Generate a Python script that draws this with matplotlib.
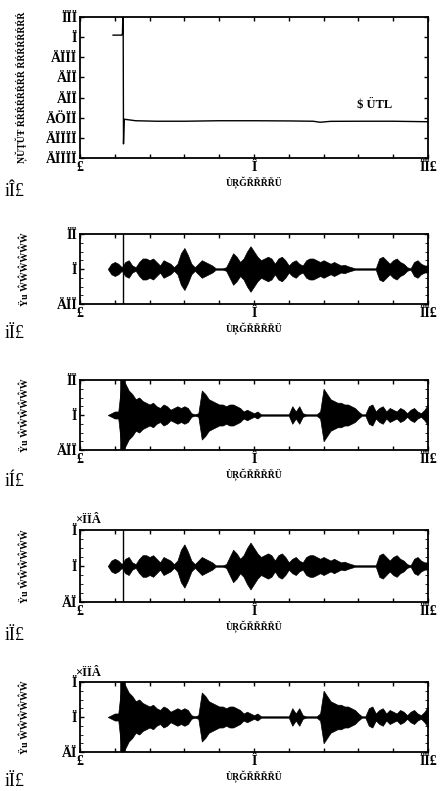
import matplotlib
matplotlib.use('Agg')
import matplotlib.pyplot as plt
import numpy as np

# ---------------- data ----------------
time_ticks = list(range(0, 11))
time_tick_labels = ['£', '', '', '', '', 'Î', '', '', '', '', 'ÏÏ£']
x_label = 'ÙŖĞŘŘŘŘÜ'
panel_labels = ['iÎ£', 'iÏ£', 'iÍ£', 'iÏ£', 'iÏ£']

# (a) time delay estimate
delay_t = [0.95, 1.20, 1.22, 1.23, 1.24, 1.25, 1.27, 1.6, 2.2, 3.0, 4.0, 5.0, 6.0, 6.7, 6.9, 7.2, 8.0, 9.0, 10.0]
delay_v = [20, 20, 35, 200, 200, -1060, -815, -830, -835, -835, -830, -830, -832, -835, -845, -836, -835, -835, -840]
delay_yticks = [200, 0, -200, -400, -600, -800, -1000, -1200]
delay_ytick_labels = ['ÏÏÏ', 'Ï', 'ÄÏÏÏ', 'ÄÏÏ', 'ÄÏÏ', 'ÄÖÏÏ', 'ÄÏÏÏÏ', 'ÄÏÏÏÏ']
delay_ylabel = 'ŅŬŢŬŦ ŔŔŔŔŔŔŔŔ ŔŔŔŔŔŔŔŔ'
annotation = '$ ÜTL'

# envelopes sampled every 0.1 s from 0 to 10 s (fraction of axis half-range)
env_t = [round(0.1 * i, 1) for i in range(101)]
env_b = [0, 0, 0, 0, 0, 0, 0, 0, 0, 0.15,
         0.2, 0.15, 0.05, 0.2, 0.25, 0.1, 0.05, 0.2, 0.3, 0.3,
         0.25, 0.3, 0.2, 0.1, 0.25, 0.2, 0.15, 0.05, 0.15, 0.45,
         0.6, 0.4, 0.15, 0.05, 0.15, 0.25, 0.2, 0.15, 0.1, 0.02,
         0.02, 0.02, 0.05, 0.25, 0.45, 0.35, 0.2, 0.3, 0.5, 0.65,
         0.5, 0.35, 0.25, 0.3, 0.35, 0.3, 0.15, 0.3, 0.35, 0.25,
         0.1, 0.2, 0.25, 0.15, 0.1, 0.25, 0.3, 0.3, 0.25, 0.2,
         0.25, 0.2, 0.15, 0.2, 0.15, 0.1, 0.12, 0.08, 0.05, 0.02,
         0.02, 0.02, 0.02, 0.02, 0.02, 0.02, 0.3, 0.35, 0.25, 0.15,
         0.25, 0.3, 0.2, 0.15, 0.05, 0.02, 0.2, 0.25, 0.15, 0.1, 0.1]
env_c = [0, 0, 0, 0, 0, 0, 0, 0, 0, 0.05,
         0.1, 0.1, 1.0, 0.9, 0.7, 0.6, 0.45, 0.5, 0.4, 0.35,
         0.3, 0.35, 0.25, 0.2, 0.3, 0.25, 0.15, 0.2, 0.25, 0.2,
         0.25, 0.2, 0.05, 0.02, 0.05, 0.7, 0.6, 0.45, 0.4, 0.35,
         0.3, 0.3, 0.25, 0.3, 0.3, 0.25, 0.2, 0.1, 0.15, 0.1,
         0.05, 0.1, 0.02, 0.02, 0.02, 0.02, 0.02, 0.02, 0.02, 0.02,
         0.02, 0.25, 0.1, 0.25, 0.05, 0.02, 0.02, 0.02, 0.02, 0.1,
         0.75, 0.6, 0.45, 0.4, 0.35, 0.35, 0.3, 0.3, 0.25, 0.2,
         0.1, 0.02, 0.02, 0.25, 0.3, 0.1, 0.2, 0.25, 0.1, 0.2,
         0.15, 0.1, 0.2, 0.15, 0.05, 0.15, 0.2, 0.1, 0.05, 0.15, 0.3]
env_d = list(env_b)
env_e = list(env_c)
onset_time = 1.24
signal_start = 0.9

wave_ytick_labels_bc = ['ÄÏÏ', 'Ï', 'ÏÏ']
wave_ytick_labels_de = ['ÄÏ', 'Ï', 'Ï']
wave_ylabel = 'Ÿu ŴŴŴŴŴŴ'
exp_label = '×ÏÏÂ'

# ---------------- layout ----------------
W, H = 443, 791
fig = plt.figure(figsize=(W / 100, H / 100), dpi=100)
FONT = 'Liberation Serif'


def make_ax(top, bottom, left=80, right=428):
    return fig.add_axes([left / W, 1 - bottom / H, (right - left) / W, (bottom - top) / H])


def style(ax):
    for s in ax.spines.values():
        s.set_linewidth(1.3)
    ax.tick_params(direction='in', top=True, right=True, length=3, width=1,
                   labelsize=10, pad=2)
    ax.set_xlim(0, 10)
    ax.set_xticks(time_ticks)
    ax.set_xticklabels(time_tick_labels, fontfamily=FONT, fontweight='bold')
    ax.set_xlabel(x_label, fontfamily=FONT, fontsize=7, fontweight='bold', labelpad=2)


# panel (a)
axa = make_ax(17, 158)
style(axa)
axa.plot(delay_t, delay_v, color='k', lw=1.0)
axa.set_ylim(-1200, 200)
axa.set_yticks(delay_yticks)
axa.set_yticklabels(delay_ytick_labels, fontfamily=FONT, fontweight='bold')
axa.set_ylabel(delay_ylabel, fontfamily=FONT, fontsize=7, fontweight='bold')
axa.yaxis.set_label_coords(-0.149, 0.5)
axa.text(7.95, -700, annotation, fontfamily=FONT, fontsize=9, fontweight='bold')

wave_panels = [
    (234, 304, env_b, False, wave_ytick_labels_bc, None),
    (380, 450, env_c, True, wave_ytick_labels_bc, None),
    (530, 602, env_d, False, wave_ytick_labels_de, exp_label),
    (682, 752, env_e, True, wave_ytick_labels_de, exp_label),
]

for (top, bottom, env, thick, ylabels, ex) in wave_panels:
    ax = make_ax(top, bottom)
    style(ax)
    e = np.array(env)
    t = np.array(env_t)
    ax.plot([signal_start, 10], [0, 0], color='k', lw=0.6)
    ax.fill_between(t, -e, e, where=e > 0, color='k', lw=0.5, interpolate=True)
    if thick:
        ax.axvline(onset_time, color='k', lw=4)
    else:
        ax.axvline(onset_time, color='k', lw=1)
    ax.set_ylim(-1, 1)
    ax.set_yticks([-1, 0, 1])
    ax.set_yticks([-0.75, -0.5, -0.25, 0.25, 0.5, 0.75], minor=True)
    ax.tick_params(which='minor', direction='in', left=True, right=True, length=2)
    ax.set_yticklabels(ylabels, fontfamily=FONT, fontweight='bold')
    ax.set_ylabel(wave_ylabel, fontfamily=FONT, fontsize=7, fontweight='bold')
    ax.yaxis.set_label_coords(-0.144, 0.5)
    if ex:
        ax.text(-0.015, 1.05, ex, transform=ax.transAxes, fontfamily=FONT,
                fontsize=9, fontweight='bold', ha='left', va='bottom')

label_y = [192, 334, 482, 635, 782]
for lab, y in zip(panel_labels, label_y):
    fig.text(5 / W, 1 - y / H, lab, fontfamily=FONT, fontsize=13, va='center')

fig.savefig('out.png', dpi=100)
